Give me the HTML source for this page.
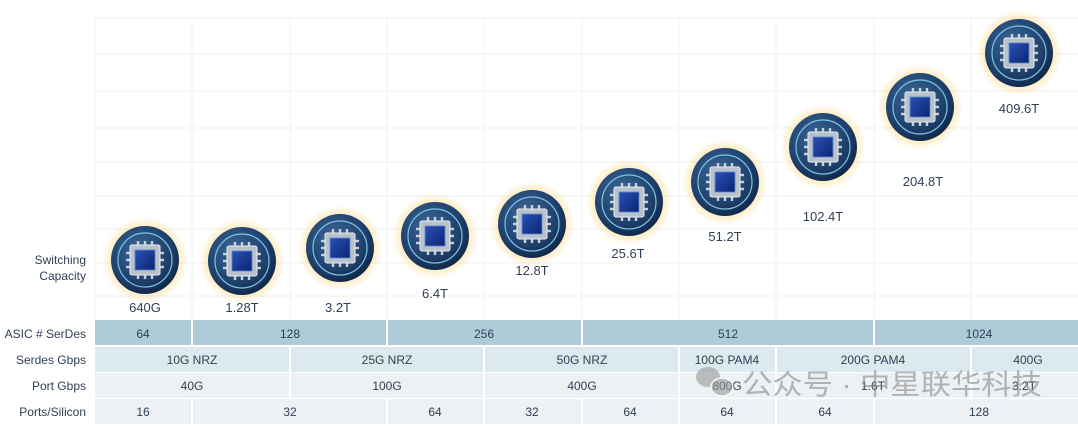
<!DOCTYPE html>
<html><head><meta charset="utf-8"><style>
body{margin:0;background:#fff;}
svg{display:block;font-family:"Liberation Sans","Noto Sans CJK SC",sans-serif;}
</style></head><body>
<svg width="1078" height="426" viewBox="0 0 1078 426" xmlns="http://www.w3.org/2000/svg">
<defs>
<radialGradient id="glow"><stop offset="0.6" stop-color="#f7c64a" stop-opacity="0.6"/><stop offset="1" stop-color="#f7c64a" stop-opacity="0"/></radialGradient>
<radialGradient id="disc" cx="0.4" cy="0.35" r="0.7"><stop offset="0" stop-color="#3a6797"/><stop offset="0.7" stop-color="#1d3e69"/><stop offset="1" stop-color="#0f2544"/></radialGradient>
<linearGradient id="core" x1="0" y1="0" x2="1" y2="1"><stop offset="0" stop-color="#2a52b8"/><stop offset="1" stop-color="#0c2372"/></linearGradient>
<g id="chip">
<circle r="43" fill="url(#glow)"/>
<circle r="34" fill="url(#disc)"/>
<circle r="27" fill="none" stroke="#7fc4e8" stroke-width="1.2"/>
<g stroke="#c9d0d8" stroke-width="2.4">
<line x1="-7" y1="-19" x2="-7" y2="-13"/><line x1="0" y1="-19" x2="0" y2="-13"/><line x1="7" y1="-19" x2="7" y2="-13"/>
<line x1="-7" y1="13" x2="-7" y2="19"/><line x1="0" y1="13" x2="0" y2="19"/><line x1="7" y1="13" x2="7" y2="19"/>
<line x1="-19" y1="-7" x2="-13" y2="-7"/><line x1="-19" y1="0" x2="-13" y2="0"/><line x1="-19" y1="7" x2="-13" y2="7"/>
<line x1="13" y1="-7" x2="19" y2="-7"/><line x1="13" y1="0" x2="19" y2="0"/><line x1="13" y1="7" x2="19" y2="7"/>
</g>
<rect x="-15" y="-15" width="30" height="30" rx="2" fill="#b9c1cb" stroke="#e8ecf0" stroke-width="1"/>
<rect x="-10" y="-10" width="20" height="20" fill="url(#core)" stroke="#5a8ad0" stroke-width="0.8"/>
</g>
</defs>
<g stroke="#f0f0f0" stroke-width="1">
<line x1="95" y1="18" x2="1078" y2="18"/><line x1="95" y1="54" x2="1078" y2="54"/><line x1="95" y1="91" x2="1078" y2="91"/><line x1="95" y1="128" x2="1078" y2="128"/><line x1="95" y1="162" x2="1078" y2="162"/><line x1="95" y1="196" x2="1078" y2="196"/><line x1="95" y1="229" x2="1078" y2="229"/><line x1="95" y1="263" x2="1078" y2="263"/><line x1="95" y1="296" x2="1078" y2="296"/>
<line x1="95" y1="18" x2="95" y2="320"/><line x1="192" y1="18" x2="192" y2="320"/><line x1="290" y1="18" x2="290" y2="320"/><line x1="387" y1="18" x2="387" y2="320"/><line x1="484" y1="18" x2="484" y2="320"/><line x1="582" y1="18" x2="582" y2="320"/><line x1="679" y1="18" x2="679" y2="320"/><line x1="776" y1="18" x2="776" y2="320"/><line x1="874" y1="18" x2="874" y2="320"/><line x1="971" y1="18" x2="971" y2="320"/>
</g>
<use href="#chip" x="145" y="260"/><use href="#chip" x="242" y="261"/><use href="#chip" x="340" y="248"/><use href="#chip" x="435" y="236"/><use href="#chip" x="532" y="224"/><use href="#chip" x="629" y="202"/><use href="#chip" x="725" y="182"/><use href="#chip" x="823" y="147"/><use href="#chip" x="920" y="107"/><use href="#chip" x="1019" y="53"/>
<g fill="#2f3f55" font-size="13" text-anchor="middle">
<text x="145" y="312">640G</text><text x="242" y="312">1.28T</text><text x="338" y="312">3.2T</text><text x="435" y="298">6.4T</text><text x="532" y="275">12.8T</text><text x="628" y="258">25.6T</text><text x="725" y="241">51.2T</text><text x="823" y="221">102.4T</text><text x="923" y="186">204.8T</text><text x="1019" y="113">409.6T</text>
</g>
<g fill="#2f3f55" font-size="12" text-anchor="end">
<text x="86" y="264">Switching</text><text x="86" y="280">Capacity</text>
<text x="86" y="338">ASIC # SerDes</text><text x="86" y="364">Serdes Gbps</text><text x="86" y="390">Port Gbps</text><text x="86" y="416">Ports/Silicon</text>
</g>
<g fill="#aecbd8">
<rect x="95" y="320" width="96" height="25"/><rect x="193" y="320" width="193" height="25"/><rect x="388" y="320" width="193" height="25"/><rect x="583" y="320" width="290" height="25"/><rect x="875" y="320" width="203" height="25"/>
</g>
<g fill="#dce9ef">
<rect x="95" y="347" width="194" height="25"/><rect x="291" y="347" width="192" height="25"/><rect x="485" y="347" width="193" height="25"/><rect x="680" y="347" width="95" height="25"/><rect x="777" y="347" width="193" height="25"/><rect x="972" y="347" width="106" height="25"/>
</g>
<g fill="#eef1f3">
<rect x="95" y="373" width="194" height="25"/><rect x="291" y="373" width="192" height="25"/><rect x="485" y="373" width="193" height="25"/><rect x="680" y="373" width="95" height="25"/><rect x="777" y="373" width="193" height="25"/><rect x="972" y="373" width="106" height="25"/>
<rect x="95" y="399" width="96" height="25"/><rect x="193" y="399" width="193" height="25"/><rect x="388" y="399" width="95" height="25"/><rect x="485" y="399" width="96" height="25"/><rect x="583" y="399" width="95" height="25"/><rect x="680" y="399" width="95" height="25"/><rect x="777" y="399" width="96" height="25"/><rect x="875" y="399" width="203" height="25"/>
</g>
<g fill="#2f3f55" font-size="12" text-anchor="middle">
<text x="143" y="338">64</text><text x="290" y="338">128</text><text x="484" y="338">256</text><text x="728" y="338">512</text><text x="979" y="338">1024</text>
<text x="192" y="364">10G NRZ</text><text x="387" y="364">25G NRZ</text><text x="582" y="364">50G NRZ</text><text x="727" y="364">100G PAM4</text><text x="873" y="364">200G PAM4</text><text x="1028" y="364">400G</text>
<text x="192" y="390">40G</text><text x="387" y="390">100G</text><text x="582" y="390">400G</text><text x="727" y="390">800G</text><text x="873" y="390">1.6T</text><text x="1024" y="390">3.2T</text>
<text x="143" y="416">16</text><text x="290" y="416">32</text><text x="435" y="416">64</text><text x="532" y="416">32</text><text x="630" y="416">64</text><text x="727" y="416">64</text><text x="825" y="416">64</text><text x="979" y="416">128</text>
</g>
<g opacity="0.6">
<ellipse cx="708" cy="377" rx="12" ry="10" fill="#999"/><ellipse cx="722" cy="387" rx="11" ry="9" fill="#999" stroke="#fff" stroke-width="1.5"/>
<text x="742" y="394" font-size="28" fill="#888" textLength="300" lengthAdjust="spacingAndGlyphs">公众号 · 中星联华科技</text>
</g>
</svg>
</body></html>
